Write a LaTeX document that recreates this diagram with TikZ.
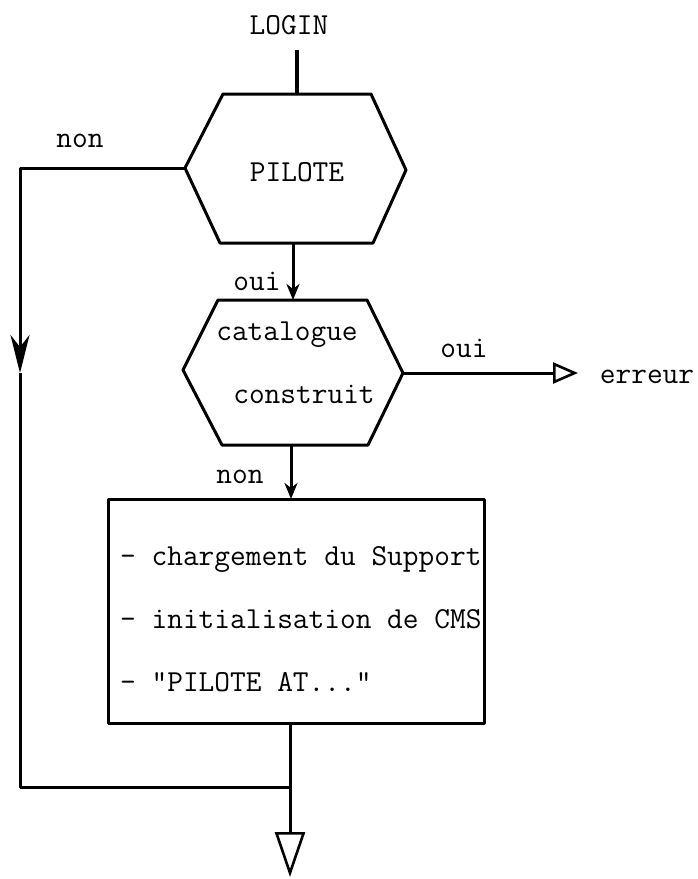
\documentclass[tikz,border=0pt]{standalone}
\usetikzlibrary{arrows.meta}
\begin{document}
\begin{tikzpicture}[x=1pt,y=-1pt]
\tikzset{
  flow/.style={line width=3pt, line join=round},
  lbl/.style={font=\ttfamily\fontsize{30.5}{36}\selectfont, inner sep=0pt, anchor=base},
  lline/.style={lbl, anchor=base west},
  smallhead/.style={-{Stealth[length=16pt,width=13pt,inset=5pt]}},
  bighead/.style={-{Stealth[length=38pt,width=19pt,inset=12pt]}},
}
\useasboundingbox (0,0) rectangle (697,879);

% texts
\node[lbl] (login) at (289,34) {LOGIN};
\node[lbl] (pilote) at (297,181) {PILOTE};
\node[lbl] (non1) at (80,147) {non};
\node[lbl] (oui1) at (257,290) {oui};
\node[lbl] (cat1) at (287,340) {catalogue};
\node[lbl] (cat2) at (304,403) {construit};
\node[lbl] (oui2) at (464,357) {oui};
\node[lbl] (err) at (647,383) {erreur};
\node[lbl] (non2) at (240,483) {non};
\node[lline] (t1) at (120,565) {- chargement du Support};
\node[lline] (t2) at (120,628) {- initialisation de CMS};
\node[lline] (t3) at (120,691) {- "PILOTE AT..."};

% decision PILOTE
\coordinate (pT) at (297,94);
\coordinate (pL) at (185,168);
\coordinate (pB) at (293,243);
\draw[flow] (223,94) -- (371,94) -- (406,170) -- (373,243) -- (220,243) -- (pL) -- cycle;

% decision catalogue construit
\coordinate (cT) at (293,300);
\coordinate (cR) at (403,373);
\coordinate (cB) at (291,445);
\draw[flow] (218,300) -- (367,300) -- (cR) -- (368,445) -- (222,445) -- (183,370) -- cycle;

% action box
\coordinate (bT) at (291,499);
\coordinate (bB) at (290,723);
\draw[flow] (108,499) rectangle (484,723);

% junction points
\coordinate (start) at (297,50);
\coordinate (lc1) at (20,168);
\coordinate (lmid) at (20,373);
\coordinate (lc2) at (20,787);
\coordinate (join) at (290,787);
\coordinate (endB) at (290,877);
\coordinate (endR) at (578,373);

% connectors
\draw[flow, line width=4.5pt] (start) -- (pT);
\draw[flow, smallhead] (pB) -- (cT);
\draw[flow, smallhead] (cB) -- (bT);
\draw[flow, bighead] (pL) -- (lc1) -- (lmid);
\draw[flow] (lmid) -- (lc2) -- (join);
\draw[flow, -{Triangle[open,length=25pt,width=21pt,line width=2.6pt]}] (cR) -- (endR);
\draw[flow, -{Triangle[open,length=45pt,width=30pt,line width=2.6pt]}] (bB) -- (endB);
\end{tikzpicture}
\end{document}
